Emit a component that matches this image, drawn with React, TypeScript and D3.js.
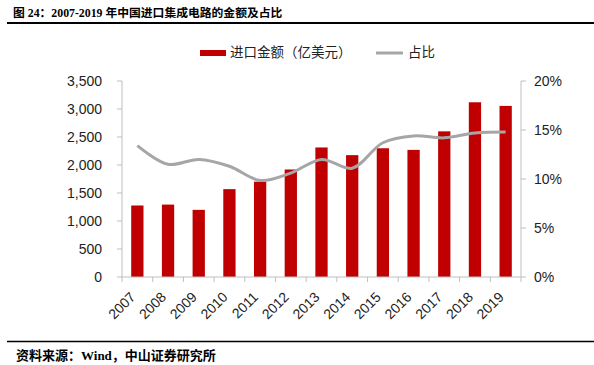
import React from "react";
import * as d3 from "d3";

const years = ["2007","2008","2009","2010","2011","2012","2013","2014","2015","2016","2017","2018","2019"];
const amounts = [1277, 1293, 1199, 1569, 1702, 1920, 2313, 2176, 2299, 2270, 2601, 3120, 3055];
const shares = [13.4, 11.5, 12.0, 11.3, 9.85, 10.6, 12.0, 11.1, 13.7, 14.4, 14.2, 14.7, 14.8];
const leftTicks = [0, 500, 1000, 1500, 2000, 2500, 3000, 3500];
const rightTicks = [0, 5, 10, 15, 20];

const W = 594, H = 365;
const left = 122, right = 521, top = 81, bottom = 277;
const numFont = "'Liberation Sans', Arial, sans-serif";
const cjkFont = "'Liberation Serif', 'Noto Sans CJK SC', serif";
const axisColor = "#bfbfbf";

export default function App() {
  const x = d3.scaleBand<string>().domain(years).range([left, right]).paddingInner(0).paddingOuter(0);
  const yL = d3.scaleLinear().domain([0, 3500]).range([bottom, top]);
  const yR = d3.scaleLinear().domain([0, 20]).range([bottom, top]);
  const bw = x.bandwidth() * 0.4;
  const line = d3.line<number>()
    .x((_, i) => (x(years[i]) as number) + x.bandwidth() / 2)
    .y(d => yR(d))
    .curve(d3.curveCatmullRom.alpha(0.5));
  const fmt = d3.format(",");

  return (
    <svg width={W} height={H} style={{ position: "absolute", left: 0, top: 0, background: "#fff" }}>
      {/* title */}
      <text x={13} y={17} fontFamily={cjkFont} fontWeight="bold" fontSize={11.8} fill="#000">图 24：2007-2019 年中国进口集成电路的金额及占比</text>
      <line x1={7} x2={594} y1={23} y2={23} stroke="#000" strokeWidth={2} />

      {/* legend */}
      <rect x={200} y={50} width={26} height={6} fill="#c00000" />
      <text x={230} y={57} fontFamily="'Noto Sans CJK SC', sans-serif" fontSize={13.5} fill="#222">进口金额（亿美元）</text>
      <line x1={376} x2={403} y1={53} y2={53} stroke="#a6a6a6" strokeWidth={3} />
      <text x={408} y={57} fontFamily="'Noto Sans CJK SC', sans-serif" fontSize={13.5} fill="#222">占比</text>

      {/* bars */}
      {amounts.map((v, i) => (
        <rect key={years[i]} x={(x(years[i]) as number) + x.bandwidth() / 2 - bw / 2} y={yL(v)} width={bw} height={bottom - yL(v)} fill="#c00000" />
      ))}

      {/* left axis */}
      <line x1={left} x2={left} y1={top} y2={bottom} stroke={axisColor} />
      {leftTicks.map(t => (
        <g key={"l" + t}>
          <line x1={left - 5} x2={left} y1={yL(t)} y2={yL(t)} stroke={axisColor} />
          <text x={102} y={yL(t)} dy="0.35em" textAnchor="end" fontFamily={numFont} fontSize={14} fill="#222">{fmt(t)}</text>
        </g>
      ))}

      {/* right axis */}
      <line x1={right} x2={right} y1={top} y2={bottom} stroke={axisColor} />
      {rightTicks.map(t => (
        <g key={"r" + t}>
          <line x1={right} x2={right + 5} y1={yR(t)} y2={yR(t)} stroke={axisColor} />
          <text x={534} y={yR(t)} dy="0.35em" textAnchor="start" fontFamily={numFont} fontSize={14} fill="#222">{t + "%"}</text>
        </g>
      ))}

      {/* bottom axis */}
      <line x1={left} x2={right} y1={bottom} y2={bottom} stroke={axisColor} />
      {years.map(y => (
        <line key={"t" + y} x1={x(y) as number} x2={x(y) as number} y1={bottom} y2={bottom + 5} stroke={axisColor} />
      ))}
      <line x1={right} x2={right} y1={bottom} y2={bottom + 5} stroke={axisColor} />
      {years.map(y => {
        const cx = (x(y) as number) + x.bandwidth() / 2 - 1;
        const cy = 298;
        return (
          <text key={"x" + y} x={cx} y={cy} textAnchor="end" transform={`rotate(-45 ${cx} ${cy})`} fontFamily={numFont} fontSize={14} fill="#222">{y}</text>
        );
      })}

      {/* share line */}
      <path d={line(shares) || ""} fill="none" stroke="#a6a6a6" strokeWidth={3} />

      {/* footer */}
      <line x1={7} x2={594} y1={341.5} y2={341.5} stroke="#000" strokeWidth={1.5} />
      <text x={16} y={360} fontFamily={cjkFont} fontWeight="bold" fontSize={13} fill="#000">资料来源：Wind，中山证券研究所</text>
    </svg>
  );
}
